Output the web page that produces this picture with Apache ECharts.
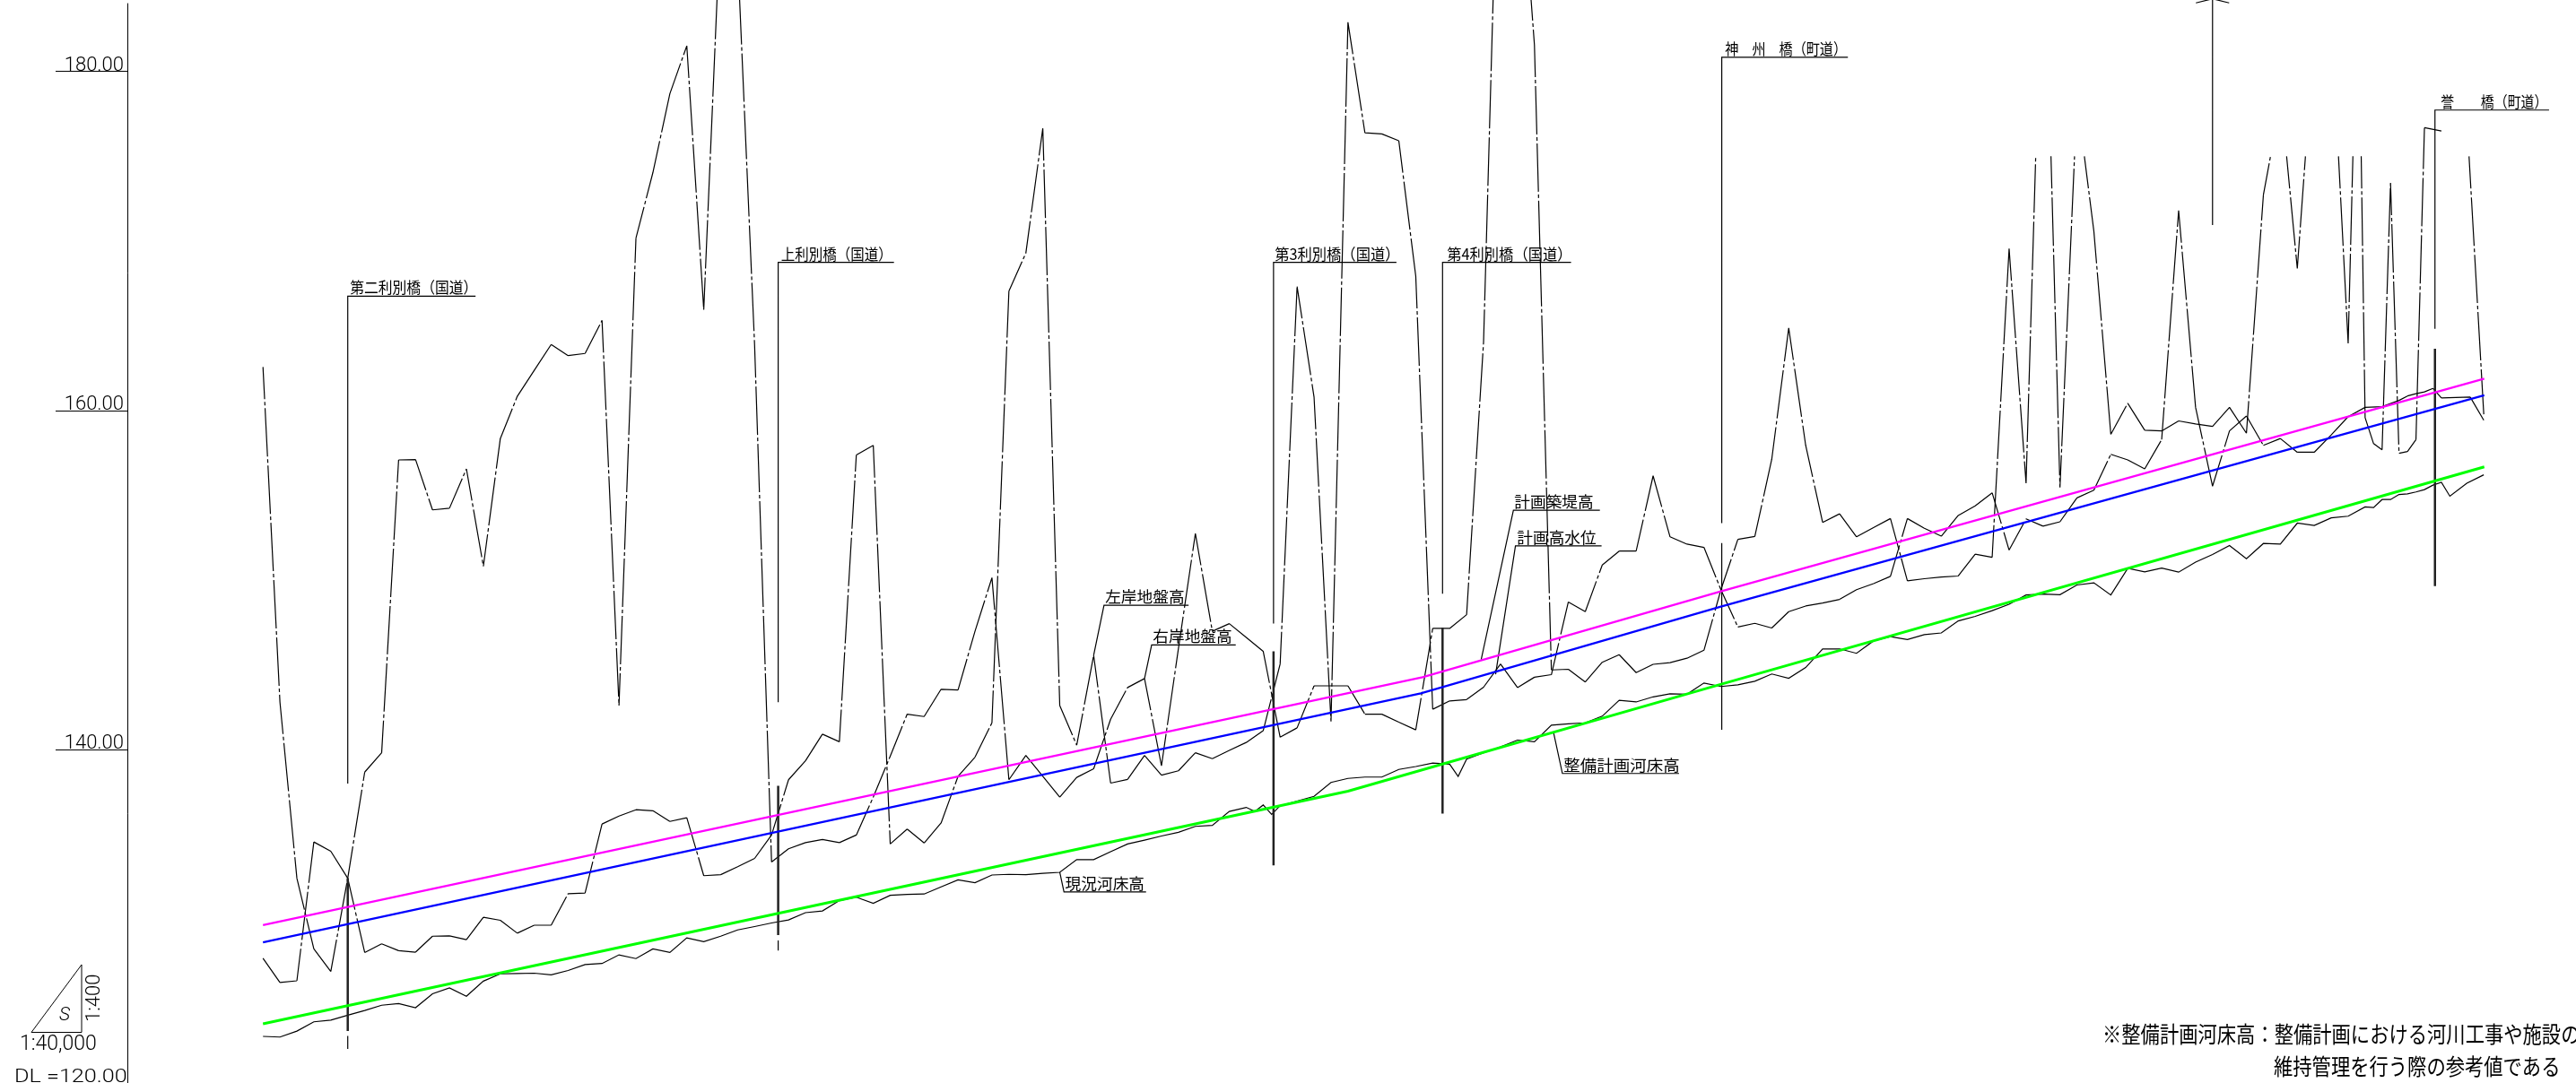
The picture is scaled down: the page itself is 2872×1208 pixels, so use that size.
<!DOCTYPE html>
<html><head><meta charset="utf-8">
<style>html,body{margin:0;padding:0;background:#fff}#c{width:2872px;height:1208px}</style>
<script src="https://cdn.jsdelivr.net/npm/echarts@6/dist/echarts.min.js"></script>
</head><body><div id="c"></div>
<script>
// Elevation ticks (m)
const yTicks = [140, 160, 180];
// 現況河床高: [station, elevation]
const bedLevel = [[0,123.07],[1,123.03],[2,123.38],[3,123.93],[4,124.03],[5,124.32],[6,124.60],[7,124.91],[8,125.01],[9,124.76],[10,125.58],[11,125.93],[12,125.44],[13,126.33],[14,126.76],[15,126.78],[16,126.80],[17,126.70],[18,126.96],[19,127.31],[20,127.37],[21,127.88],[22,127.66],[23,128.23],[24,128.02],[25,128.88],[26,128.66],[27,128.98],[28,129.35],[29,129.55],[30,129.76],[31,129.94],[32,130.37],[33,130.47],[34,131.08],[35,131.28],[36,130.92],[37,131.39],[38,131.45],[39,131.47],[40,131.89],[41,132.30],[42,132.14],[43,132.59],[44,132.63],[45,132.61],[46,132.69],[47,132.75],[48,133.50],[49,133.50],[50,133.97],[51,134.42],[52,134.65],[53,134.89],[54,135.11],[55,135.46],[56,135.52],[57,136.34],[58,136.58],[58.5,136.34],[59,136.72],[59.5,136.17],[60,136.68],[61,136.95],[62,137.23],[63,138.05],[64,138.29],[65,138.37],[66,138.37],[67,138.82],[68,138.99],[69,139.19],[70,139.13],[70.5,138.41],[71,139.43],[72,139.80],[73,140.15],[74,140.55],[75,140.45],[76,141.43],[77,141.51],[78,141.57],[79,141.96],[80,142.90],[81,142.80],[82,143.10],[83,143.28],[84,143.26],[85,143.92],[86,143.71],[87,143.81],[88,144.02],[89,144.45],[90,144.20],[91,144.83],[92,145.93],[93,145.93],[94,145.67],[95,146.40],[96,146.65],[97,146.48],[98,146.77],[99,146.87],[100,147.58],[101,147.85],[102,148.19],[103,148.56],[104,149.11],[105,149.17],[106,149.13],[107,149.70],[108,149.83],[109,149.11],[110,150.68],[111,150.48],[112,150.70],[113,150.46],[114,151.05],[115,151.50],[116,152.03],[117,151.25],[118,152.15],[119,152.11],[120,153.35],[121,153.21],[122,153.66],[123,153.76],[124,154.31],[124.5,154.27],[125,154.74],[125.5,154.74],[126,155.04],[126.5,155.08],[127,155.19],[127.5,155.33],[128,155.59],[128.5,155.76],[129,154.94],[130,155.70],[131,156.20]];
// 右岸地盤高
const rightBank = [[0,162.56],[1,142.80],[2,132.40],[3,128.23],[4,126.90],[5,132.40],[6,138.66],[7,139.80],[8,157.08],[9,157.10],[10,154.13],[11,154.23],[12,156.55],[13,150.80],[14,158.34],[15,160.83],[16,162.36],[17,163.89],[18,163.23],[19,163.36],[20,165.31],[21,142.59],[22,170.16],[23,174.03],[24,178.68],[25,181.51],[26,165.94],[27,189.31],[28,186.87],[29,163.84],[30,133.36],[31,134.14],[32,134.50],[33,134.69],[34,134.50],[35,134.95],[36,137.19],[37,139.60],[38,142.08],[39,141.94],[40,143.55],[41,143.51],[42,146.97],[43,150.13],[44,138.21],[45,139.64],[46,138.41],[47,137.19],[48,138.35],[49,138.86],[50,141.78],[51,143.65],[52,144.18],[53,139.03],[54,145.95],[55,152.74],[56,146.97],[57,147.42],[58,146.61],[59,145.79],[60,140.72],[61,141.27],[62,143.75],[63,143.75],[64,143.75],[65,142.08],[66,142.08],[67,141.61],[68,141.15],[69,147.14],[70,147.14],[71,147.95],[72,164.05],[73,199.91],[74,195.02],[75,181.57],[76,144.69],[77,144.73],[78,143.98],[79,145.14],[80,145.59],[81,144.53],[82,145.02],[83,145.12],[84,145.38],[85,145.85],[86,149.42],[87,152.39],[88,152.56],[89,157.12],[90,164.86],[91,157.94],[92,153.39],[93,153.90],[94,152.54],[95,153.09],[96,153.62],[97,149.95],[98,150.07],[99,150.17],[100,150.23],[101,151.52],[102,151.33],[103,169.55],[104,155.70],[104.57,174.99],[null,null],[105.47,174.99],[106,155.45],[106.86,174.99],[null,null],[107.44,174.99],[108,170.57],[109,158.59],[110,160.42],[111,158.83],[112,158.79],[113,159.38],[114,159.20],[115,159.06],[116,160.18],[117,158.65],[118,172.71],[118.42,174.99],[null,null],[119.37,174.99],[120,168.37],[120.48,174.99],[null,null],[122.43,174.99],[123,163.95],[123.28,174.99],[null,null],[123.77,174.99],[124,159.57],[124.5,158.04],[125,157.67],[125.5,173.42],[126,157.47],[126.5,157.57],[127,158.28],[127.5,176.68],[128.5,176.48],[null,null],[130.13,174.99],[131,159.77]];
// 左岸地盤高
const leftBank = [[0,127.68],[1,126.25],[2,126.35],[3,134.54],[4,133.99],[5,132.40],[6,128.02],[7,128.53],[8,128.13],[9,128.04],[10,128.98],[11,129.00],[12,128.78],[13,130.10],[14,129.92],[15,129.16],[16,129.63],[17,129.63],[18,131.49],[19,131.53],[20,135.60],[21,136.07],[22,136.44],[23,136.38],[24,135.75],[25,135.97],[26,132.55],[27,132.61],[28,133.08],[29,133.57],[30,134.95],[31,138.21],[32,139.33],[33,140.90],[34,140.45],[35,157.37],[36,157.94],[37,134.42],[38,135.30],[39,134.48],[40,135.66],[41,138.41],[42,139.54],[43,141.57],[44,167.04],[45,169.28],[46,176.64],[47,142.59],[48,140.25],[49,145.55],[50,138.01],[51,138.23],[52,139.64],[53,138.48],[54,138.74],[55,139.80],[56,139.45],[57,139.94],[58,140.41],[59,141.10],[60,145.04],[61,167.31],[62,160.79],[63,141.65],[64,182.90],[65,176.38],[66,176.31],[67,175.91],[68,167.92],[69,142.37],[70,142.86],[71,142.94],[72,143.67],[73,145.04],[74,143.65],[75,144.26],[76,144.41],[77,148.70],[78,148.13],[79,150.88],[80,151.70],[81,151.70],[82,156.14],[83,152.54],[84,152.11],[85,151.92],[86,149.42],[87,147.22],[88,147.44],[89,147.16],[90,148.13],[91,148.46],[92,148.64],[93,148.85],[94,149.42],[95,149.78],[96,150.21],[97,153.62],[98,153.05],[99,152.58],[100,153.80],[101,154.37],[102,155.14],[103,151.76],[104,153.60],[105,153.17],[106,153.43],[107,154.84],[108,155.29],[109,157.41],[110,157.08],[111,156.55],[112,158.28],[113,171.79],[114,160.18],[115,155.53],[116,158.79],[117,159.67],[118,157.94],[119,158.34],[120,157.53],[121,157.53],[122,158.55],[123,159.63],[124,160.18],[125,160.22],[126,160.59],[126.5,160.85],[127,160.99],[127.5,161.09],[128,161.30],[128.5,160.73],[130.2,160.79],[131,159.42]];
// 計画築堤高 / 計画高水位 / 整備計画河床高
const plannedLevee = [[0,129.63],[68.4,144.26],[85.95,149.31],[131.03,161.87]];
const plannedFlood = [[0,128.62],[68.3,143.31],[85.95,148.41],[131.03,160.89]];
const plannedBed = [[0,123.81],[64,137.54],[85.7,143.76],[131.03,156.67]];
// Bridge piers (heavy) and leader lines (thin)
const bridgeHeavy = [[[5,132.40],[5,123.39]],[[30.39,137.85],[30.39,129.05]],[[59.61,145.79],[59.61,133.16]],[[69.58,147.19],[69.58,136.22]],[[128.12,163.64],[128.12,149.63]]];
const bridgeThin = [[[5,137.99],[5,166.74],[12.54,166.74]],[[5,123.10],[5,122.33]],[[30.39,142.78],[30.39,168.73],[37.22,168.73]],[[30.39,128.73],[30.39,128.13]],[[59.61,147.42],[59.61,168.73],[66.86,168.73]],[[69.58,149.18],[69.58,168.73],[77.16,168.73]],[[86.05,153.35],[86.05,180.83],[93.49,180.83]],[[86.05,152.17],[86.05,141.16]],[[128.12,164.82],[128.12,177.72],[134.85,177.72]],[[115,184.3],[115,170.94]],[[114.02,184.04],[115,184.28],[115.98,184.04]]];
const labelLeaders = [[[49,145.55],[49.61,148.50],[54.60,148.50]],[[52,144.18],[52.42,146.16],[57.38,146.16]],[[47,132.75],[47.25,131.59],[52.09,131.59]],[[71.86,145.31],[73.76,154.11],[78.86,154.11]],[[72.71,144.43],[73.88,152.01],[78.96,152.01]],[[76.12,141.03],[76.65,138.58],[83.53,138.58]]];
// Annotations
const labelTexts = ['第二利別橋（国道）','上利別橋（国道）','第3利別橋（国道）','第4利別橋（国道）','神　州　橋（町道）','誉　　橋（町道）','左岸地盤高','右岸地盤高','現況河床高','計画築堤高','計画高水位','整備計画河床高'];
const labelAnchors = [[5.13,166.74],[30.56,168.73],[59.68,168.73],[69.84,168.73],[86.24,180.83],[128.46,177.72],[49.68,148.50],[52.49,146.16],[47.32,131.59],[73.81,154.11],[73.97,152.01],[76.72,138.58]];
const labelSizes = [15.8,15.5,16.3,16.3,15.1,14.9,17.7,17.7,17.7,17.7,17.7,18.5];
const noteLines = ['※整備計画河床高：整備計画における河川工事や施設の','維持管理を行う際の参考値である'];
const scaleTexts = ['1:400','1:40,000','DL =120.00','S'];

const CJK = "'Noto Sans CJK JP'";
const LAT = "Roboto,'Liberation Sans'";
const join = lists => lists.reduce((a, l, i) => a.concat(i ? [[null, null]] : [], l), []);
// Each stretch between two surveyed points restarts its own dash pattern, as a CAD line type does.
const segments = list => {
  const out = [];
  for (let i = 0; i + 1 < list.length; i++) {
    if (list[i][0] === null || list[i + 1][0] === null) continue;
    out.push(list[i], list[i + 1], [null, null]);
  }
  return out;
};
const line = (name, data, color, width, dash, offset) => ({
  type: 'line', name, data, showSymbol: false, symbol: 'none', silent: true, clip: false, smooth: false,
  animation: false, connectNulls: false,
  lineStyle: { color, width, type: dash || 'solid', dashOffset: offset || 0, cap: 'butt', join: 'miter' }
});
const DASH = [54, 3, 4, 3];

const chart = echarts.init(document.getElementById('c'), null, { renderer: 'canvas' });
chart.setOption({
  animation: false,
  backgroundColor: '#fff',
  grid: { left: 142, right: 0, top: 4, bottom: 0, containLabel: false },
  xAxis: { type: 'value', min: -8, max: 136.44, show: false },
  yAxis: {
    type: 'value', min: 120.32, max: 184,
    axisLine: { show: true, onZero: false, lineStyle: { color: '#000', width: 1 } },
    axisTick: { show: true, length: 80, customValues: yTicks, lineStyle: { color: '#000', width: 1 } },
    axisLabel: {
      customValues: yTicks, margin: 4, align: 'right', verticalAlign: 'bottom', lineHeight: 13,
      color: '#000', fontFamily: LAT, fontSize: 22, fontWeight: 300,
      formatter: v => v.toFixed(2)
    },
    splitLine: { show: false }
  },
  series: [
    line('右岸地盤高', segments(rightBank), '#000', 1.2, DASH, 18),
    line('左岸地盤高', segments(leftBank), '#000', 1.2, DASH, 18),
    line('現況河床高', bedLevel, '#000', 1.2),
    line('bridge-thin', join(bridgeThin), '#000', 1.2),
    line('bridge-heavy', join(bridgeHeavy), '#222', 2.5),
    line('leaders', join(labelLeaders), '#000', 1.2),
    line('計画築堤高', plannedLevee, '#ff00ff', 2.3),
    line('計画高水位', plannedFlood, '#0000ff', 2.3),
    line('整備計画河床高', plannedBed, '#00ff00', 3),
    {
      type: 'custom', name: 'labels', silent: true, animation: false, clip: false,
      data: labelAnchors,
      renderItem: (params, api) => {
        const p = api.coord([api.value(0), api.value(1)]);
        const i = params.dataIndex;
        return { type: 'text', x: p[0], y: p[1] - 1, scaleY: 17.5 / labelSizes[i],
          style: { text: labelTexts[i], fill: '#000', font: 'normal ' + labelSizes[i] + 'px ' + CJK, align: 'left', verticalAlign: 'bottom' } };
      }
    }
  ],
  graphic: { elements: [
    { type: 'polygon', shape: { points: [[35, 1151.5], [91, 1151.5], [91, 1076]] }, style: { fill: 'none', stroke: '#000', lineWidth: 1 }, silent: true },
    { type: 'text', x: 66, y: 1143, style: { text: scaleTexts[3], fill: '#000', font: "italic 300 21px " + LAT, align: 'left', verticalAlign: 'bottom' }, silent: true },
    { type: 'text', x: 116, y: 1140, rotation: Math.PI / 2, style: { text: scaleTexts[0], fill: '#000', font: "300 22px " + LAT, align: 'left', verticalAlign: 'bottom' }, silent: true },
    { type: 'text', x: 22, y: 1177, style: { text: scaleTexts[1], fill: '#000', font: "300 23px " + LAT, align: 'left', verticalAlign: 'bottom' }, silent: true },
    { type: 'text', x: 16, y: 1212, scaleX: 1.2, style: { text: scaleTexts[2], fill: '#000', font: "300 21px " + LAT, align: 'left', verticalAlign: 'bottom' }, silent: true },
    { type: 'text', x: 2344, y: 1166, scaleY: 1.2, style: { text: noteLines[0], fill: '#000', font: 'normal 21.3px ' + CJK, align: 'left', verticalAlign: 'bottom' }, silent: true },
    { type: 'text', x: 2535, y: 1202, scaleY: 1.2, style: { text: noteLines[1], fill: '#000', font: 'normal 21.3px ' + CJK, align: 'left', verticalAlign: 'bottom' }, silent: true }
  ] }
});
</script></body></html>
